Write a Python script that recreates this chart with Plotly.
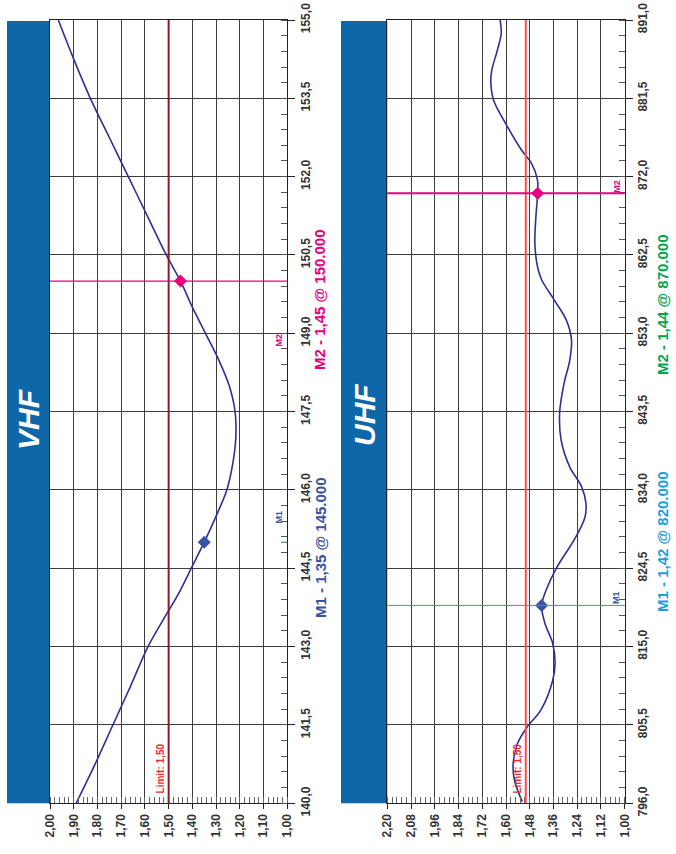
import plotly.graph_objects as go

W, H = 676, 854
FONT = "Liberation Sans, Arial, sans-serif"

# ---------------- data ----------------
VHF_FREQ = [140.0, 140.75, 141.5, 142.25, 143.0, 143.5, 144.0, 144.5, 145.0, 145.5, 146.0,
            146.5, 147.0, 147.5, 148.0, 148.5, 149.0, 149.5, 150.0, 150.5, 151.25,
            152.0, 152.75, 153.5, 154.25, 155.0]
VHF_SWR = [1.89, 1.81, 1.735, 1.66, 1.587, 1.525, 1.46, 1.405, 1.35, 1.30, 1.255,
           1.23, 1.217, 1.22, 1.245, 1.29, 1.345, 1.40, 1.45, 1.51, 1.59,
           1.67, 1.75, 1.83, 1.90, 1.965]

UHF_FREQ = [796.2, 798.8, 800.8, 803.2, 805.3, 807.3, 810.9, 813.0, 815.4, 817.8,
            820.0, 821.8, 824.5, 828.1, 830.7, 832.4, 834.4, 836.8, 840.0, 843.3,
            846.9, 849.7, 852.2, 854.6, 857.0, 859.5, 861.1, 863.9, 867.1, 870.0,
            871.6, 873.6, 875.2, 878.5, 881.3, 883.5, 884.9, 887.4, 889.4, 891.0]
UHF_SWR = [1.518, 1.557, 1.564, 1.543, 1.492, 1.424, 1.364, 1.352, 1.364, 1.403,
           1.42, 1.398, 1.346, 1.252, 1.201, 1.196, 1.218, 1.278, 1.321, 1.329,
           1.307, 1.278, 1.269, 1.295, 1.355, 1.42, 1.441, 1.454, 1.449, 1.44,
           1.441, 1.471, 1.521, 1.603, 1.663, 1.677, 1.672, 1.643, 1.624, 1.63]

VHF_SWR_TICKS = [2.00, 1.90, 1.80, 1.70, 1.60, 1.50, 1.40, 1.30, 1.20, 1.10, 1.00]
VHF_SWR_LABELS = ["2,00", "1,90", "1,80", "1,70", "1,60", "1,50", "1,40", "1,30", "1,20", "1,10", "1,00"]
VHF_FREQ_TICKS = [140.0, 141.5, 143.0, 144.5, 146.0, 147.5, 149.0, 150.5, 152.0, 153.5, 155.0]
VHF_FREQ_LABELS = ["140,0", "141,5", "143,0", "144,5", "146,0", "147,5", "149,0", "150,5", "152,0", "153,5", "155,0"]

UHF_SWR_TICKS = [2.20, 2.08, 1.96, 1.84, 1.72, 1.60, 1.48, 1.36, 1.24, 1.12, 1.00]
UHF_SWR_LABELS = ["2,20", "2,08", "1,96", "1,84", "1,72", "1,60", "1,48", "1,36", "1,24", "1,12", "1,00"]
UHF_FREQ_TICKS = [796.0, 805.5, 815.0, 824.5, 834.0, 843.5, 853.0, 862.5, 872.0, 881.5, 891.0]
UHF_FREQ_LABELS = ["796,0", "805,5", "815,0", "824,5", "834,0", "843,5", "853,0", "862,5", "872,0", "881,5", "891,0"]

LIMIT = 1.50
LIMIT_LABEL = "Limit: 1,50"

VHF_MK_NAMES = ["M1", "M2"]
VHF_MK_FREQ = [145.0, 150.0]
VHF_MK_SWR = [1.35, 1.45]
VHF_MK_TEXT = ["M1 - 1,35 @ 145.000", "M2 - 1,45 @ 150.000"]

UHF_MK_NAMES = ["M1", "M2"]
UHF_MK_FREQ = [820.0, 870.0]
UHF_MK_SWR = [1.42, 1.44]
UHF_MK_TEXT = ["M1 - 1,42 @ 820.000", "M2 - 1,44 @ 870.000"]

# ---------------- styling ----------------
def px(x):
    return x / W

def py(y):
    return 1 - y / H

CURVE = "#2e3192"
BANNER = "#0e67a8"
PINK = "#e6007e"
MK_BLUE = "#3953a4"
GRID = "#3c3c3c"
TICKFONT = dict(family=FONT, size=12, color="#333333", weight="bold")

Y_DOMAIN = [py(803.3), py(20)]
X1_DOMAIN = [px(50), px(287.3)]
X2_DOMAIN = [px(387.3), px(624.7)]


def xaxis_cfg(domain, ticks, labels, minor_dtick, anchor):
    return dict(
        domain=domain, range=[ticks[0], ticks[-1]], tickmode="array",
        tickvals=ticks, ticktext=labels, tickangle=-90, ticks="outside",
        ticklen=5, tickcolor="#222", tickwidth=1, showline=True, linecolor="#222",
        linewidth=1, mirror=True, showgrid=True, gridcolor=GRID, gridwidth=1,
        zeroline=False, tickfont=TICKFONT, anchor=anchor, fixedrange=True,
        automargin=False, ticklabeloverflow="allow",
        minor=dict(ticks="inside", ticklen=6, tickcolor="#666", tickwidth=1,
                   tickmode="linear", tick0=ticks[-1], dtick=minor_dtick, showgrid=False),
    )


def yaxis_cfg(ticks, labels, minor_dtick, anchor):
    return dict(
        domain=Y_DOMAIN, range=[ticks[0], ticks[-1]], tickmode="array",
        tickvals=ticks, ticktext=labels, tickangle=-90, side="right",
        ticks="outside", ticklen=7, tickcolor="#222", tickwidth=1,
        showline=True, linecolor="#222", linewidth=1, mirror=True,
        showgrid=True, gridcolor=GRID, gridwidth=1, zeroline=False,
        tickfont=TICKFONT, anchor=anchor, fixedrange=True, automargin=False,
        ticklabeloverflow="allow",
        minor=dict(ticks="inside", ticklen=6, tickcolor="#555", tickwidth=1,
                   tickmode="linear", tick0=ticks[0], dtick=minor_dtick, showgrid=False),
    )


fig = go.Figure()

shapes = []
annotations = []

# banners
for (x0, x1, label, cx, cy) in [(7, 50, "VHF", 28, 420), (341, 387.3, "UHF", 364, 415)]:
    shapes.append(dict(type="rect", xref="paper", yref="paper", x0=px(x0), x1=px(x1),
                       y0=py(803.3), y1=py(21), fillcolor=BANNER, line=dict(width=0),
                       layer="below"))
    annotations.append(dict(xref="paper", yref="paper", x=px(cx), y=py(cy), text=label,
                            showarrow=False, textangle=-90, xanchor="center", yanchor="middle",
                            font=dict(family=FONT, size=30, color="white",
                                      weight="bold", style="italic")))

# limit lines
shapes.append(dict(type="line", xref="x", yref="y domain", x0=LIMIT, x1=LIMIT, y0=0, y1=1,
                   line=dict(color="#8c1d26", width=2), layer="above"))
shapes.append(dict(type="line", xref="x2", yref="y2 domain", x0=LIMIT, x1=LIMIT, y0=0, y1=1,
                   line=dict(color="#ff4a4a", width=2), layer="above"))
for xr, yr in [("x", "y domain"), ("x2", "y2 domain")]:
    annotations.append(dict(xref=xr, yref=yr, x=LIMIT, y=0, text=LIMIT_LABEL,
                            showarrow=False, textangle=-90, xanchor="right",
                            yanchor="bottom", xshift=-1, yshift=8,
                            font=dict(family=FONT, size=10, color="#ff2626", weight="bold")))

# marker lines (VHF M1: short tick at right edge)
shapes.append(dict(type="line", xref="x domain", yref="y", x0=0.975, x1=1,
                   y0=VHF_MK_FREQ[0], y1=VHF_MK_FREQ[0],
                   line=dict(color=MK_BLUE, width=1), layer="above"))
shapes.append(dict(type="line", xref="x domain", yref="y", x0=0, x1=1,
                   y0=VHF_MK_FREQ[1], y1=VHF_MK_FREQ[1],
                   line=dict(color=PINK, width=1.3), layer="above"))
shapes.append(dict(type="line", xref="x2 domain", yref="y2", x0=0, x1=1,
                   y0=UHF_MK_FREQ[0], y1=UHF_MK_FREQ[0],
                   line=dict(color="#5f7fc4", width=1), layer="above"))
shapes.append(dict(type="line", xref="x2 domain", yref="y2", x0=0, x1=1,
                   y0=UHF_MK_FREQ[1], y1=UHF_MK_FREQ[1],
                   line=dict(color=PINK, width=2), layer="above"))

# curves
fig.add_trace(go.Scatter(x=VHF_SWR, y=VHF_FREQ, mode="lines", xaxis="x", yaxis="y",
                         line=dict(color=CURVE, width=1.6, shape="spline", smoothing=1.0),
                         hoverinfo="skip"))
fig.add_trace(go.Scatter(x=UHF_SWR, y=UHF_FREQ, mode="lines", xaxis="x2", yaxis="y2",
                         line=dict(color=CURVE, width=1.6, shape="spline", smoothing=1.0),
                         hoverinfo="skip"))

# markers
fig.add_trace(go.Scatter(x=VHF_MK_SWR, y=VHF_MK_FREQ, mode="markers", xaxis="x", yaxis="y",
                         marker=dict(symbol="diamond", size=10, color=[MK_BLUE, PINK]),
                         hoverinfo="skip"))
fig.add_trace(go.Scatter(x=UHF_MK_SWR, y=UHF_MK_FREQ, mode="markers", xaxis="x2", yaxis="y2",
                         marker=dict(symbol="diamond", size=10, color=[MK_BLUE, PINK]),
                         hoverinfo="skip"))

# small marker names near right axis
small = [("x domain", "y", VHF_MK_FREQ[0], VHF_MK_NAMES[0], MK_BLUE, 25),
         ("x domain", "y", VHF_MK_FREQ[1], VHF_MK_NAMES[1], PINK, -59),
         ("x2 domain", "y2", UHF_MK_FREQ[0], UHF_MK_NAMES[0], MK_BLUE, 8),
         ("x2 domain", "y2", UHF_MK_FREQ[1], UHF_MK_NAMES[1], PINK, 7)]
for xr, yr, f, name, col, ys in small:
    annotations.append(dict(xref=xr, yref=yr, x=1, y=f, text=name, showarrow=False,
                            textangle=-90, xanchor="right", yanchor="middle",
                            xshift=-1, yshift=ys,
                            font=dict(family=FONT, size=9, color=col, weight="bold")))

# info texts
info = [(320, 548, VHF_MK_TEXT[0], MK_BLUE),
        (320, 300, VHF_MK_TEXT[1], PINK),
        (662, 542, UHF_MK_TEXT[0], "#1aa0dc"),
        (662, 305, UHF_MK_TEXT[1], "#00a651")]
for cx, cy, txt, col in info:
    annotations.append(dict(xref="paper", yref="paper", x=px(cx), y=py(cy), text=txt,
                            showarrow=False, textangle=-90, xanchor="center", yanchor="middle",
                            font=dict(family=FONT, size=15, color=col, weight="bold")))

fig.update_layout(
    width=W, height=H, margin=dict(l=0, r=0, t=0, b=0, autoexpand=False),
    paper_bgcolor="white", plot_bgcolor="white", showlegend=False,
    xaxis=xaxis_cfg(X1_DOMAIN, VHF_SWR_TICKS, VHF_SWR_LABELS, 0.02, "y"),
    yaxis=yaxis_cfg(VHF_FREQ_TICKS, VHF_FREQ_LABELS, 0.3, "x"),
    xaxis2=xaxis_cfg(X2_DOMAIN, UHF_SWR_TICKS, UHF_SWR_LABELS, 0.024, "y2"),
    yaxis2=yaxis_cfg(UHF_FREQ_TICKS, UHF_FREQ_LABELS, 1.9, "x2"),
    shapes=shapes, annotations=annotations,
)

fig.write_html("out.html",
               config={"displayModeBar": False, "staticPlot": True},
               post_script="document.body.style.margin='0';document.body.style.overflow='hidden';")
